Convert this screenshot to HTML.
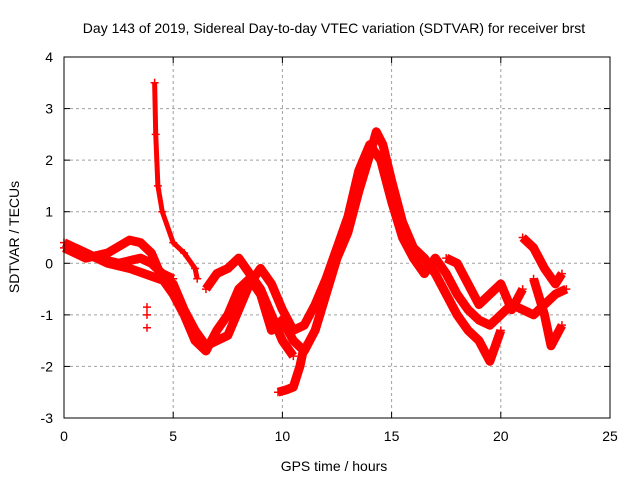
<!DOCTYPE html>
<html><head><meta charset="utf-8"><style>
body{margin:0;background:#fff}
svg{display:block;font-family:"Liberation Sans",sans-serif}
</style></head><body>
<svg id="chart" width="640" height="480">
<text x="334" y="33" font-size="14" text-anchor="middle">Day 143 of 2019, Sidereal Day-to-day VTEC variation (SDTVAR) for receiver brst</text>
<text x="334" y="471" font-size="14" text-anchor="middle">GPS time / hours</text>
<text transform="translate(19,237) rotate(-90)" font-size="14" text-anchor="middle">SDTVAR / TECUs</text>
<g id="grid"></g><g id="marks"></g>
<rect x="64" y="57" width="546" height="361" fill="none" stroke="#000" stroke-width="1"/>
</svg>
<script>
const xTicks=[0,5,10,15,20,25];
const yTicks=[-3,-2,-1,0,1,2,3,4];
const trackA=[[0,0.4],[1,0.2],[2,0],[3,-0.1],[4,-0.25],[5,-0.4],[5.5,-0.9],[6,-1.3],[6.5,-1.6],[7,-1.5],[7.5,-1.4],[8,-0.9],[8.5,-0.4],[9,-0.1],[9.5,-0.4],[10,-0.9],[10.5,-1.3],[11,-1.2],[11.5,-0.8],[12,-0.3],[12.5,0.3],[13,0.9],[13.5,1.8],[14,2.3],[14.5,2.0],[15,1.2],[15.5,0.5],[16,0.1],[16.5,-0.2],[17,0.1],[17.5,-0.2],[18,-0.6],[18.5,-0.9],[19,-1.1],[19.5,-1.2],[20,-1.0],[20.5,-0.8],[21,-0.9],[21.5,-1.0],[22,-0.8],[22.5,-0.6],[23,-0.5]];
const trackB=[[0,0.3],[1,0.1],[2,0.2],[3,0.45],[3.5,0.4],[4,0.2],[4.5,-0.3],[5,-0.6],[5.5,-1.0],[6,-1.5],[6.5,-1.7],[7,-1.3],[7.5,-1.0],[8,-0.5],[8.5,-0.3],[9,-0.6],[9.5,-1.3],[10,-1.1],[10.5,-1.5],[11,-1.7],[11.5,-1.3],[12,-0.6],[12.5,0.1],[13,0.6],[13.5,1.4],[14,2.1],[14.3,2.55],[14.6,2.3],[15,1.6],[15.5,0.8],[16,0.3],[16.5,0.1],[17,-0.2],[17.5,-0.6],[18,-1.0],[18.5,-1.3],[19,-1.5],[19.5,-1.9],[20,-1.3]];
const trackC=[[0.5,0.3],[1.5,0.1],[2.5,0],[3.5,0.1],[4,0],[4.5,-0.2],[5,-0.3]];
const trackD=[[4.15,3.5],[4.2,2.5],[4.3,1.5],[4.5,1.0],[5,0.4],[5.5,0.2],[6,-0.1],[6.1,-0.3]];
const trackE=[[6.5,-0.5],[7,-0.2],[7.5,-0.1],[8,0.1],[8.5,-0.2],[9,-0.5],[9.5,-1.0],[10,-1.5],[10.5,-1.8]];
const trackF=[[9.8,-2.5],[10.2,-2.45],[10.5,-2.4],[10.8,-2.0],[11,-1.6]];
const trackG=[[17.5,0.1],[18,0],[18.5,-0.4],[19,-0.8],[19.5,-0.6],[20,-0.4],[20.5,-0.9],[21,-0.5]];
const trackH=[[21,0.5],[21.5,0.3],[22,-0.1],[22.5,-0.4],[22.8,-0.2]];
const trackI=[[21.5,-0.3],[22,-1.0],[22.3,-1.6],[22.8,-1.2]];
const outliers=[[3.8,-0.85],[3.8,-1.0],[3.8,-1.25]];
const tracks=[trackA,trackB,trackC,trackD,trackE,trackF,trackG,trackH,trackI];
const X=h=>64+h*546/25, Y=v=>418-(v+3)*361/7;
const NS="http://www.w3.org/2000/svg", svg=document.getElementById('chart');
const grid=document.getElementById('grid'), marks=document.getElementById('marks');
function mk(tag,attrs,parent){const e=document.createElementNS(NS,tag);for(const k in attrs)e.setAttribute(k,attrs[k]);parent.appendChild(e);return e;}
xTicks.forEach(t=>{const x=X(t);
 if(t>0&&t<25){const l=mk('line',{x1:x,x2:x,y1:57,y2:418,stroke:'#a0a0a0','stroke-dasharray':'3,3'},grid);
 
 }
 const tx=mk('text',{x:x,y:441,'font-size':14,'text-anchor':'middle'},svg);tx.textContent=t;
 
 
 mk('line',{x1:x,x2:x,y1:418,y2:412,stroke:'#000'},svg);mk('line',{x1:x,x2:x,y1:57,y2:63,stroke:'#000'},svg);});
yTicks.forEach(t=>{const y=Y(t);
 if(t>-3&&t<4){const l=mk('line',{x1:64,x2:610,y1:y,y2:y,stroke:'#a0a0a0','stroke-dasharray':'3,3'},grid);
 
 }
 const tx=mk('text',{x:53,y:y+5,'font-size':14,'text-anchor':'end'},svg);tx.textContent=t;
 
 
 mk('line',{x1:64,x2:70,y1:y,y2:y,stroke:'#000'},svg);mk('line',{x1:610,x2:604,y1:y,y2:y,stroke:'#000'},svg);});
function plus(h,v){const x=X(h),y=Y(v);
 const p=mk('path',{d:`M${x-4},${y}H${x+4}M${x},${y-4}V${y+4}`,stroke:'#f00','stroke-width':1.5},marks);
 
 }
tracks.forEach(tr=>{
 const pl=mk('polyline',{points:tr.map(p=>X(p[0])+','+Y(p[1])).join(' '),fill:'none',stroke:'#f00','stroke-width':tr===trackD?5:9,'stroke-linejoin':'round'},marks);
 
 
 tr.forEach(p=>plus(p[0],p[1]));});
outliers.forEach(p=>plus(p[0],p[1]));
</script>
</body></html>
